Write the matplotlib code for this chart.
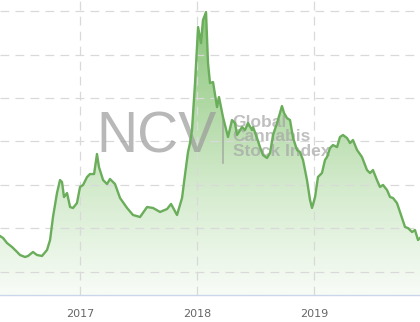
import numpy as np
import matplotlib.pyplot as plt
from matplotlib.colors import LinearSegmentedColormap

# Index level (decimal year, value)
years = [2016.316, 2016.342, 2016.376, 2016.419, 2016.462, 2016.487, 2016.530, 2016.556,
         2016.598, 2016.632, 2016.675, 2016.718, 2016.744, 2016.769, 2016.803, 2016.829,
         2016.846, 2016.863, 2016.889, 2016.915, 2016.940, 2016.974, 2017.000, 2017.026,
         2017.060, 2017.085, 2017.120, 2017.145, 2017.162, 2017.197, 2017.231, 2017.256,
         2017.299, 2017.342, 2017.402, 2017.453, 2017.513, 2017.573, 2017.624, 2017.684,
         2017.744, 2017.778, 2017.829, 2017.872, 2017.897, 2017.923, 2017.940, 2017.957,
         2017.983, 2018.009, 2018.034, 2018.051, 2018.077, 2018.094, 2018.111, 2018.137,
         2018.171, 2018.188, 2018.222, 2018.265, 2018.299, 2018.325, 2018.342, 2018.385,
         2018.410, 2018.436, 2018.470, 2018.479, 2018.513, 2018.538, 2018.564, 2018.598,
         2018.624, 2018.650, 2018.684, 2018.709, 2018.726, 2018.744, 2018.769, 2018.795,
         2018.821, 2018.855, 2018.880, 2018.906, 2018.940, 2018.966, 2018.983, 2019.009,
         2019.034, 2019.068, 2019.094, 2019.111, 2019.137, 2019.162, 2019.197, 2019.222,
         2019.248, 2019.282, 2019.308, 2019.333, 2019.368, 2019.410, 2019.453, 2019.479,
         2019.504, 2019.538, 2019.564, 2019.590, 2019.624, 2019.650, 2019.675, 2019.709,
         2019.735, 2019.778, 2019.803, 2019.838, 2019.863, 2019.889, 2019.906]

values = [91.0, 88.7, 82.9, 78.3, 72.6, 69.1, 66.8, 68.0,
          72.6, 69.1, 68.0, 74.9, 86.4, 112.9, 140.5, 155.5,
          153.2, 135.9, 140.5, 124.4, 123.3, 129.0, 147.5, 149.8,
          159.0, 162.4, 162.4, 185.5, 170.5, 155.5, 150.9, 156.7,
          150.9, 134.8, 123.3, 115.2, 112.9, 124.4, 123.3, 118.7,
          122.1, 127.9, 115.2, 134.8, 161.3, 187.8, 198.1, 213.1,
          267.3, 331.8, 313.3, 339.8, 349.1, 290.3, 267.3, 268.4,
          239.6, 251.1, 228.1, 205.1, 224.6, 221.2, 207.4, 216.6,
          213.1, 221.2, 213.1, 216.6, 203.9, 193.5, 184.3, 180.9,
          186.6, 207.4, 221.2, 232.7, 240.8, 232.7, 226.9, 224.6,
          203.9, 190.1, 187.8, 178.6, 155.5, 132.5, 123.3, 135.9,
          159.0, 163.6, 178.6, 182.0, 192.4, 195.8, 193.5, 205.1,
          207.4, 203.9, 198.1, 201.6, 190.1, 182.0, 167.0, 163.6,
          167.0, 155.5, 147.5, 149.8, 144.0, 135.9, 134.8, 129.0,
          118.7, 101.4, 100.2, 95.6, 97.9, 86.4, 88.7]

tick_years = [2017, 2018, 2019]
tick_labels = ['2017', '2018', '2019']
grid_levels = [50, 100, 150, 200, 250, 300, 350]
watermark_lines = ['Global', 'Cannabis', 'Stock Index']

x_min, x_max = 2016.316, 2019.906
y_min, y_max = 23, 363

fig = plt.figure(figsize=(4.2, 3.22), dpi=100)
ax = fig.add_axes([0, 27 / 322, 1, 295 / 322])
ax.set_xlim(x_min, x_max)
ax.set_ylim(y_min, y_max)

# gradient fill under the line
cmap = LinearSegmentedColormap.from_list('g', [(0.0, '#f8fcf7'), (0.38, '#d2eacb'),
                                               (0.7, '#a9d59c'), (1.0, '#86c275')])
grad = np.linspace(0, 1, 256).reshape(-1, 1)
fill = ax.fill_between(years, y_min, values, color='none', lw=0)
img = ax.imshow(grad, cmap=cmap, aspect='auto', origin='lower',
                extent=[x_min, x_max, y_min, y_max], zorder=1)
img.set_clip_path(fill.get_paths()[0], transform=ax.transData)

# grid
for g in grid_levels:
    ax.axhline(g, color='#d9d9d9', lw=0.9, dashes=(7, 5), zorder=2)
for t in tick_years:
    ax.axvline(t, color='#d9d9d9', lw=0.9, dashes=(7, 5), zorder=2)

# watermark
ax.text(2017.14, 205, 'NCV', fontsize=41, color='#9a9a9a', alpha=0.7, ha='left',
        va='center', family='Liberation Sans', zorder=2.5)
ax.plot([2018.222, 2018.222], [175, 225], color='#9a9a9a', alpha=0.7, lw=1.2, zorder=2.5)
for i, word in enumerate(watermark_lines):
    ax.text(2018.305, 222 - i * 16.8, word, fontsize=12.5, fontweight='bold',
            color='#a5a5a5', alpha=0.7, ha='left', va='center',
            family='Liberation Sans', zorder=2.5)

ax.plot(years, values, color='#6aad5a', lw=1.7, zorder=3)

ax.set_xticks(tick_years)
ax.set_xticklabels(tick_labels, color='#666666', fontsize=8)
ax.set_yticks([])
ax.tick_params(axis='x', length=0, pad=10)
for s in ['left', 'right', 'top']:
    ax.spines[s].set_visible(False)
ax.spines['bottom'].set_color('#ccd6eb')
ax.spines['bottom'].set_linewidth(1)

fig.savefig('out.png', dpi=100)
